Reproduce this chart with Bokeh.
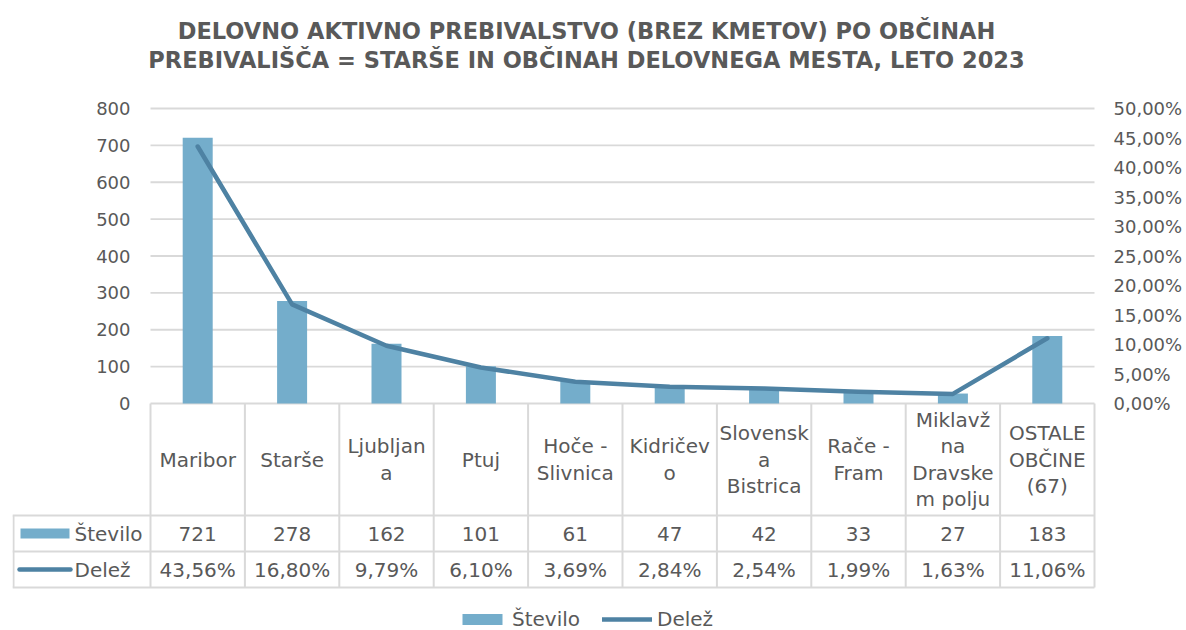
from bokeh.plotting import figure
from bokeh.models import (Range1d, LinearAxis, FixedTicker, CustomJSTickFormatter,
                          Legend, LegendItem, ColumnDataSource)
from bokeh.core.properties import value
from bokeh.embed import file_html
from bokeh.resources import INLINE

# ---------------- data ----------------
title_lines = [
    "DELOVNO AKTIVNO PREBIVALSTVO (BREZ KMETOV) PO OBČINAH",
    "PREBIVALIŠČA = STARŠE IN OBČINAH DELOVNEGA MESTA, LETO 2023",
]
categories = ["Maribor", "Starše", "Ljubljan\na", "Ptuj", "Hoče -\nSlivnica",
              "Kidričev\no", "Slovensk\na\nBistrica", "Rače -\nFram",
              "Miklavž\nna\nDravske\nm polju", "OSTALE\nOBČINE\n(67)"]
stevilo = [721, 278, 162, 101, 61, 47, 42, 33, 27, 183]
delez = [43.56, 16.80, 9.79, 6.10, 3.69, 2.84, 2.54, 1.99, 1.63, 11.06]
series_names = ["Število", "Delež"]
left_ticks = [0, 100, 200, 300, 400, 500, 600, 700, 800]
right_ticks = [0, 5, 10, 15, 20, 25, 30, 35, 40, 45, 50]

# ---------------- style / layout ----------------
FONT = "DejaVu Sans"
TXT = "#595959"
BAR = "#74adcb"
LINE = "#4e82a3"
GRID = "#d9d9d9"

W, H = 1184, 630
LEFT_BORDER = 12
CW = 94.4            # column width (px)
LEFTCOL = 138        # width of row-header column (px)
ZERO_FROM_TOP = 403  # canvas px of value 0
PLOT_H = 295         # px for 0..800
PXU = 800.0 / PLOT_H
RMAX = 50.0
LMAX = 800.0
LINE_GAP = 26.5      # px between wrapped category lines

def ypx(px_below_zero):
    return -px_below_zero * PXU

def ytop(px_from_top):
    return ypx(px_from_top - ZERO_FROM_TOP)

x_start = -0.5 - LEFTCOL / CW
x_end = 9.5 + 2 / CW
frame_w = int(round(LEFTCOL + 10 * CW + 2))
y_top = ZERO_FROM_TOP * PXU
y_bot = ypx(H - ZERO_FROM_TOP)
r_scale = RMAX / LMAX

p = figure(width=W, height=H, output_backend="svg", toolbar_location=None,
           x_range=Range1d(x_start, x_end), y_range=Range1d(y_bot, y_top),
           x_axis_location=None, y_axis_location=None,
           min_border_left=LEFT_BORDER, min_border_top=0, min_border_bottom=0,
           min_border_right=W - LEFT_BORDER - frame_w)
p.frame_width = frame_w
p.frame_height = H
p.outline_line_color = None
p.xgrid.visible = False
p.ygrid.visible = False
p.background_fill_color = "white"
p.border_fill_color = "white"

p.extra_y_ranges = {"pct": Range1d(y_bot * r_scale, y_top * r_scale)}
raxis = LinearAxis(y_range_name="pct", ticker=FixedTicker(ticks=right_ticks),
                   formatter=CustomJSTickFormatter(code="return tick.toFixed(2).replace('.', ',') + '%';"))
raxis.axis_line_color = None
raxis.major_tick_line_color = None
raxis.minor_tick_line_color = None
raxis.major_label_standoff = 11
raxis.major_label_text_font = FONT
raxis.major_label_text_font_size = "18px"
raxis.major_label_text_color = TXT
p.add_layout(raxis, "right")

idx = list(range(len(categories)))

# gridlines (0..800) across plot area
p.segment(x0=[-0.5] * len(left_ticks), x1=[9.5] * len(left_ticks),
          y0=left_ticks, y1=left_ticks, line_color=GRID, line_width=1.8)

# left axis labels
p.text(x=[-0.5] * len(left_ticks), y=left_ticks, text=[str(t) for t in left_ticks],
       x_offset=-20, text_align="right", text_baseline="middle",
       text_font=value(FONT), text_font_size="18px", text_color=TXT)

# bars & line
src = ColumnDataSource(dict(x=idx, stevilo=stevilo, delez=delez))
bars = p.vbar(x="x", top="stevilo", bottom=0, width=30 / CW, source=src,
              fill_color=BAR, line_color=None)
line = p.line(x="x", y="delez", source=src, y_range_name="pct",
              line_color=LINE, line_width=4.5, line_cap="round", line_join="round")

# ---------------- data table ----------------
ROW1, ROW2, ROW3 = 112, 148, 184
# vertical borders
p.segment(x0=[k - 0.5 for k in range(11)], x1=[k - 0.5 for k in range(11)],
          y0=[0] * 11, y1=[ypx(ROW3)] * 11, line_color=GRID, line_width=2)
p.segment(x0=[x_start + 1 / CW], x1=[x_start + 1 / CW], y0=[ypx(ROW1)], y1=[ypx(ROW3)],
          line_color=GRID, line_width=2)
# horizontal borders
p.segment(x0=[x_start] * 3, x1=[9.5] * 3, y0=[ypx(ROW1), ypx(ROW2), ypx(ROW3)],
          y1=[ypx(ROW1), ypx(ROW2), ypx(ROW3)], line_color=GRID, line_width=2)

# category labels (one text per wrapped line)
cx, cy, ct = [], [], []
for i, cat in enumerate(categories):
    parts = cat.split("\n")
    n = len(parts)
    for k, part in enumerate(parts):
        cx.append(i)
        cy.append(ypx(ROW1 / 2 + (k - (n - 1) / 2) * LINE_GAP))
        ct.append(part)
p.text(x=cx, y=cy, text=ct, text_align="center", text_baseline="middle",
       text_font=value(FONT), text_font_size="20px", text_color=TXT)
# values
p.text(x=idx, y=[ypx((ROW1 + ROW2) / 2)] * len(idx), text=[str(v) for v in stevilo],
       text_align="center", text_baseline="middle",
       text_font=value(FONT), text_font_size="20px", text_color=TXT)
p.text(x=idx, y=[ypx((ROW2 + ROW3) / 2)] * len(idx),
       text=[("%.2f" % d).replace(".", ",") + "%" for d in delez],
       text_align="center", text_baseline="middle",
       text_font=value(FONT), text_font_size="20px", text_color=TXT)

# row headers with swatches
p.quad(left=[x_start + 8 / CW], right=[x_start + 57 / CW], top=[ypx((ROW1 + ROW2) / 2 - 5)],
       bottom=[ypx((ROW1 + ROW2) / 2 + 5)], fill_color=BAR, line_color=None)
p.segment(x0=[x_start + 7 / CW], x1=[x_start + 58 / CW],
          y0=[ypx((ROW2 + ROW3) / 2)], y1=[ypx((ROW2 + ROW3) / 2)],
          line_color=LINE, line_width=4.5, line_cap="round")
p.text(x=[x_start + 62 / CW] * 2, y=[ypx((ROW1 + ROW2) / 2), ypx((ROW2 + ROW3) / 2)],
       text=series_names, text_align="left", text_baseline="middle",
       text_font=value(FONT), text_font_size="20px", text_color=TXT)

# ---------------- title ----------------
title_x = -0.5 + (586 - 150) / CW
p.text(x=[title_x, title_x], y=[ytop(30), ytop(59)],
       text=title_lines, text_align="center", text_baseline="middle",
       text_font=value(FONT), text_font_size="22.5px", text_font_style="bold",
       text_color=TXT)

# ---------------- legend ----------------
legend = Legend(items=[LegendItem(label=series_names[0], renderers=[bars]),
                       LegendItem(label=series_names[1], renderers=[line])],
                orientation="horizontal", location=(445, -1),
                glyph_width=50, glyph_height=14, label_standoff=5, spacing=22,
                label_text_font=FONT, label_text_font_size="20px",
                label_text_color=TXT, border_line_color=None,
                background_fill_alpha=0, padding=0, margin=0)
p.add_layout(legend)

open("out.html", "w").write(file_html(p, INLINE))
